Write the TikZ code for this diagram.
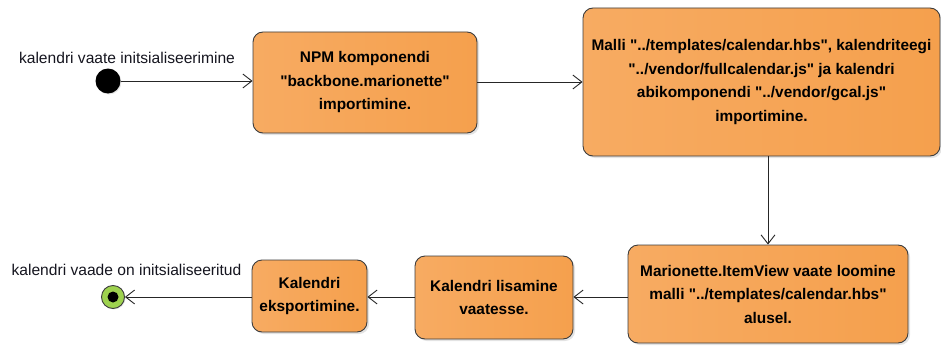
\documentclass[tikz,border=0pt]{standalone}
\usepackage{fontspec}
\setmainfont{Liberation Sans}
\usetikzlibrary{arrows.meta,shadows}

\definecolor{actL}{HTML}{F7AB62}
\definecolor{actM}{HTML}{FBC796}
\definecolor{actR}{HTML}{F5A04D}
\definecolor{edge}{HTML}{3C3C3C}
\definecolor{finalgreen}{HTML}{9ED24F}
\definecolor{labeltext}{HTML}{15151F}

% straight double quote
\newcommand{\dq}{\textquotedbl}

\tikzset{
  action/.style={draw=edge, line width=0.9pt, rounded corners=10pt,
    left color=actL, middle color=actM, right color=actR,
    shading angle=90,
    drop shadow={shadow xshift=2pt, shadow yshift=-2pt, opacity=0.22},
    align=center, inner sep=0pt,
    font=\bfseries\fontsize{15.4}{23.5}\selectfont, text=black},
  flow/.style={draw=black!85, line width=0.9pt,
    -{Straight Barb[length=9pt,width=14pt,line width=0.9pt]}},
  caption/.style={font=\fontsize{15.6}{18}\selectfont, text=labeltext, inner sep=0pt},
}

\begin{document}
\begin{tikzpicture}[x=1pt,y=-1pt]
\useasboundingbox (0,0) rectangle (941,345);

% start and end states
\node[circle, fill=black, minimum size=25pt, inner sep=0pt,
      drop shadow={shadow xshift=1pt, shadow yshift=-1pt, opacity=0.2}] (init) at (108,81) {};
\node[circle, draw=edge, line width=0.9pt, fill=finalgreen, minimum size=23pt, inner sep=0pt,
      drop shadow={shadow xshift=1pt, shadow yshift=-1pt, opacity=0.2}] (final) at (113,297) {};
\node[circle, fill=black, minimum size=11pt, inner sep=0pt] (finaldot) at (final.center) {};

\node[caption] (initlabel) at (127,58) {kalendri vaate initsialiseerimine};
\node[caption] (finallabel) at (126.5,270) {kalendri vaade on initsialiseeritud};

% activities
\node[action, minimum width=224pt, minimum height=101pt] (npm) at (365,82.5)
  {NPM komponendi\\\dq backbone.marionette\dq\\importimine.};
\node[action, minimum width=357pt, minimum height=148pt] (malli) at (761.5,82)
  {Malli \dq../templates/calendar.hbs\dq, kalendriteegi\\\dq../vendor/fullcalendar.js\dq\ ja kalendri\\abikomponendi \dq../vendor/gcal.js\dq\\importimine.};
\node[action, minimum width=280pt, minimum height=98pt] (view) at (768,294)
  {Marionette.ItemView vaate loomine\\malli \dq../templates/calendar.hbs\dq\\alusel.};
\node[action, minimum width=158pt, minimum height=83pt] (add) at (494,297.5)
  {Kalendri lisamine\\vaatesse.};
\node[action, minimum width=115pt, minimum height=72pt] (export) at (309.5,296)
  {Kalendri\\eksportimine.};

% control flow
\draw[flow] (init.east) -- (init.east -| npm.west);
\draw[flow] (npm.east |- 0,82) -- (malli.west |- 0,82);
\draw[flow] (malli.south -| view.north) -- (view.north);
\draw[flow] (view.west |- 0,297) -- (add.east |- 0,297);
\draw[flow] (add.west |- 0,297) -- (export.east |- 0,297);
\draw[flow] (export.west |- final.east) -- (final.east);
\end{tikzpicture}
\end{document}
